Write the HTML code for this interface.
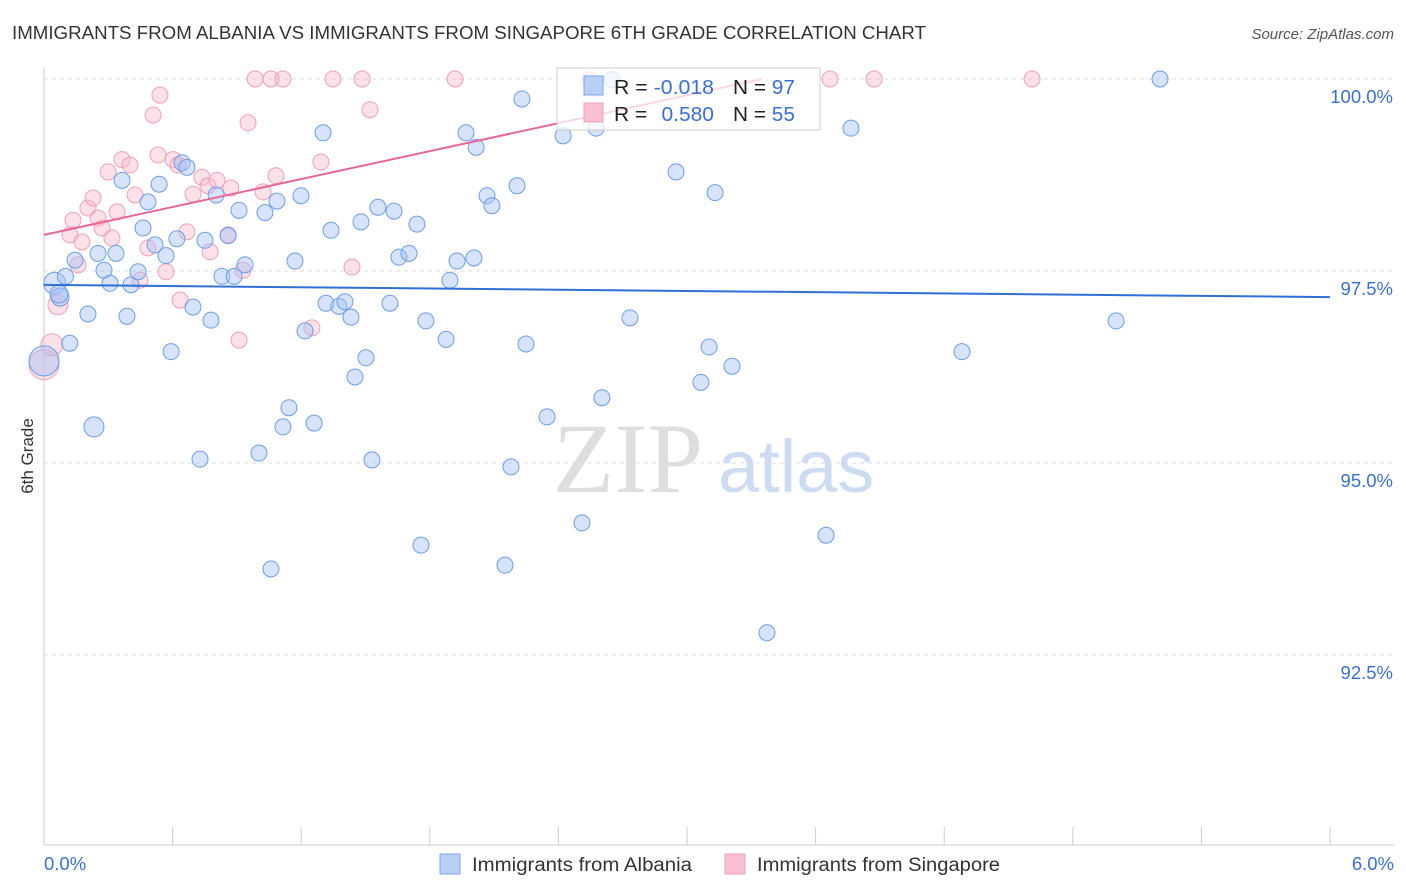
<!DOCTYPE html>
<html><head><meta charset="utf-8"><style>
body{margin:0;background:#fff;font-family:"Liberation Sans",sans-serif}
svg{display:block}
</style></head><body>
<svg id="chart" width="1406" height="892" xmlns="http://www.w3.org/2000/svg">
<text x="12" y="39" font-size="18" fill="#333" textLength="914" lengthAdjust="spacingAndGlyphs">IMMIGRANTS FROM ALBANIA VS IMMIGRANTS FROM SINGAPORE 6TH GRADE CORRELATION CHART</text>
<text x="1394" y="39" font-size="15" fill="#555" font-style="italic" text-anchor="end">Source: ZipAtlas.com</text>
<text x="33" y="456" font-size="17" fill="#333" text-anchor="middle" transform="rotate(-90 33 456)">6th Grade</text>
<g>
<text x="553" y="492" font-size="100" fill="#dedede" font-family="Liberation Serif,serif">ZIP</text>
<text x="718" y="492" font-size="74" fill="#cddcf2">atlas</text>
</g>
<g id="grid"></g><g id="axes"></g><g id="pts"></g><g id="lines"></g>
<g>
<rect x="557" y="68" width="263" height="62" fill="rgba(255,255,255,0.75)" stroke="#ccc"/>
<rect x="584" y="76" width="19" height="19" fill="#b8d0f4" stroke="#7aa6e8"/>
<rect x="584" y="103" width="19" height="19" fill="#f8c0d0" stroke="#f0a0b8"/>
<text x="614" y="94" font-size="20" fill="#222" textLength="100" lengthAdjust="spacingAndGlyphs">R = <tspan fill="#3a70d0">-0.018</tspan></text>
<text x="733" y="94" font-size="20" fill="#222" textLength="62" lengthAdjust="spacingAndGlyphs">N = <tspan fill="#3a70d0">97</tspan></text>
<text x="614" y="121" font-size="20" fill="#222" textLength="100" lengthAdjust="spacingAndGlyphs">R = <tspan fill="#3a70d0" dx="8">0.580</tspan></text>
<text x="733" y="121" font-size="20" fill="#222" textLength="62" lengthAdjust="spacingAndGlyphs">N = <tspan fill="#3a70d0">55</tspan></text>
</g>
<g>
<rect x="440" y="854" width="20" height="20" fill="#b8d0f4" stroke="#7aa6e8"/>
<text x="472" y="871" font-size="19" fill="#333" textLength="220" lengthAdjust="spacingAndGlyphs">Immigrants from Albania</text>
<rect x="725" y="854" width="20" height="20" fill="#f8c0d0" stroke="#f0a0b8"/>
<text x="757" y="871" font-size="19" fill="#333" textLength="243" lengthAdjust="spacingAndGlyphs">Immigrants from Singapore</text>
</g>
</svg>
<script>
const yTicks=[100,97.5,95,92.5];
const yTickLabels=["100.0%","97.5%","95.0%","92.5%"];
const blueX=[0.05,0.075,0.10,0.12,0.145,0.205,0.233,0.252,0.28,0.308,0.336,0.364,0.387,0.406,0.439,0.462,0.485,0.518,0.537,0.569,0.593,0.62,0.644,0.667,0.695,0.728,0.751,0.779,0.803,0.83,0.859,0.887,0.91,0.938,1.003,1.031,1.059,1.087,1.115,1.143,1.171,1.199,1.218,1.26,1.302,1.316,1.339,1.376,1.404,1.432,1.451,1.479,1.502,1.53,1.558,1.614,1.633,1.656,1.703,1.74,1.759,1.782,1.876,1.894,1.927,1.969,2.006,2.016,2.067,2.09,2.179,2.207,2.23,2.249,2.347,2.422,2.51,2.576,2.603,2.65,2.734,2.949,3.065,3.103,3.131,3.21,3.373,3.649,3.765,4.283,5.002,5.207,2.151,0.0,0.07];
const blueY=[97.34,97.16,97.43,96.56,97.64,96.94,95.47,97.73,97.51,97.34,97.73,98.68,96.91,97.32,97.49,98.06,98.40,97.84,98.63,97.70,96.45,97.92,98.91,98.85,97.03,95.05,97.90,96.86,98.49,97.43,97.96,97.43,98.29,97.58,95.13,98.26,93.62,98.41,95.47,95.72,97.63,98.48,96.72,95.52,99.30,97.08,98.03,97.04,97.10,96.90,96.12,98.14,96.37,95.04,98.33,97.08,98.28,97.68,97.73,98.11,93.93,96.85,96.61,97.38,97.63,99.30,97.67,99.11,98.48,98.35,94.95,98.61,99.74,96.55,95.60,99.26,94.22,99.36,95.85,99.99,96.89,98.79,96.05,96.51,98.52,96.26,92.79,94.06,99.36,96.45,96.85,100,93.67,96.33,97.2];
const blueSize=[11,9,8,8,8,8,10,8,8,8,8,8,8,8,8,8,8,8,8,8,8,8,8,8,8,8,8,8,8,8,8,8,8,8,8,8,8,8,8,8,8,8,8,8,8,8,8,8,8,8,8,8,8,8,8,8,8,8,8,8,8,8,8,8,8,8,8,8,8,8,8,8,8,8,8,8,8,8,8,8,8,8,8,8,8,8,8,8,8,8,8,8,8,15,9];
const pinkX=[0,0.037,0.065,0.121,0.135,0.159,0.177,0.205,0.229,0.252,0.271,0.299,0.317,0.341,0.364,0.401,0.425,0.448,0.485,0.509,0.532,0.541,0.569,0.602,0.625,0.635,0.667,0.695,0.737,0.765,0.775,0.807,0.859,0.872,0.91,0.928,0.952,0.985,1.022,1.059,1.082,1.115,1.25,1.292,1.348,1.437,1.484,1.521,1.918,3.667,3.873,4.61,2.548];
const pinkY=[96.28,96.54,97.06,97.97,98.16,97.58,97.88,98.32,98.45,98.19,98.06,98.79,97.93,98.27,98.95,98.88,98.49,97.38,97.80,99.53,99.01,99.79,97.49,98.95,98.88,97.12,98.01,98.50,98.72,98.61,97.75,98.68,97.97,98.58,96.60,97.51,99.43,100,98.53,100,98.74,100,96.76,98.92,100,97.55,100,99.60,100,100,100,100,99.99];
const pinkSize=[15,11,10,8,8,8,8,8,8,8,8,8,8,8,8,8,8,8,8,8,8,8,8,8,8,8,8,8,8,8,8,8,8,8,8,8,8,8,8,8,8,8,8,8,8,8,8,8,8,8,8,8,8];
const blueLine=[[0,97.32],[6,97.16]];
const pinkLine=[[0,97.97],[3.35,100.0]];
const NS="http://www.w3.org/2000/svg";
const xs=v=>44+v/6*1286, ys=v=>79+(100-v)*76.8;
function mk(t,a,p){const e=document.createElementNS(NS,t);for(const k in a)e.setAttribute(k,a[k]);p.appendChild(e);return e;}
const grid=document.getElementById('grid'),axes=document.getElementById('axes'),pts=document.getElementById('pts'),lines=document.getElementById('lines');
yTicks.forEach((t,i)=>{
 const l=mk('line',{x1:44,x2:1394,y1:ys(t),y2:ys(t),stroke:'#ddd','stroke-dasharray':'4,4'},grid);
 
 
 const tx=mk('text',{x:1393,y:ys(t)+24,'font-size':18.5,fill:'#3a70d0','text-anchor':'end'},axes);
 tx.textContent=yTickLabels[i];
 
 
});
const ax=mk('line',{x1:44,x2:1394,y1:845,y2:845,stroke:'#ccc'},axes);


const ay=mk('line',{x1:44,x2:44,y1:68,y2:845,stroke:'#ccc'},axes);


for(let i=0;i<=10;i++){const v=i*0.6;const t=mk('line',{x1:xs(v),x2:xs(v),y1:827,y2:845,stroke:'#ccc'},axes);
 
 }
[[0,"0.0%",'start',44],[6,"6.0%",'end',1394]].forEach(d=>{const t=mk('text',{x:d[3],y:870,'font-size':18.5,fill:'#3a70d0','text-anchor':d[2]},axes);t.textContent=d[1];
 
 });
pinkX.forEach((x,i)=>{const c=mk('circle',{cx:xs(x),cy:ys(pinkY[i]),r:pinkSize[i],fill:'rgba(248,180,200,0.4)',stroke:'#f0a0b8','stroke-width':1},pts);
 
 });
blueX.forEach((x,i)=>{const c=mk('circle',{cx:xs(x),cy:ys(blueY[i]),r:blueSize[i],fill:'rgba(164,194,244,0.45)',stroke:'#6d9ee8','stroke-width':1},pts);
 
 });
const bl=mk('line',{x1:xs(blueLine[0][0]),y1:ys(blueLine[0][1]),x2:xs(blueLine[1][0]),y2:ys(blueLine[1][1]),stroke:'#2f6fd6','stroke-width':2},lines);


const pl=mk('line',{x1:xs(pinkLine[0][0]),y1:ys(pinkLine[0][1]),x2:xs(pinkLine[1][0]),y2:ys(pinkLine[1][1]),stroke:'#e8679a','stroke-width':2},lines);


</script>
</body></html>
